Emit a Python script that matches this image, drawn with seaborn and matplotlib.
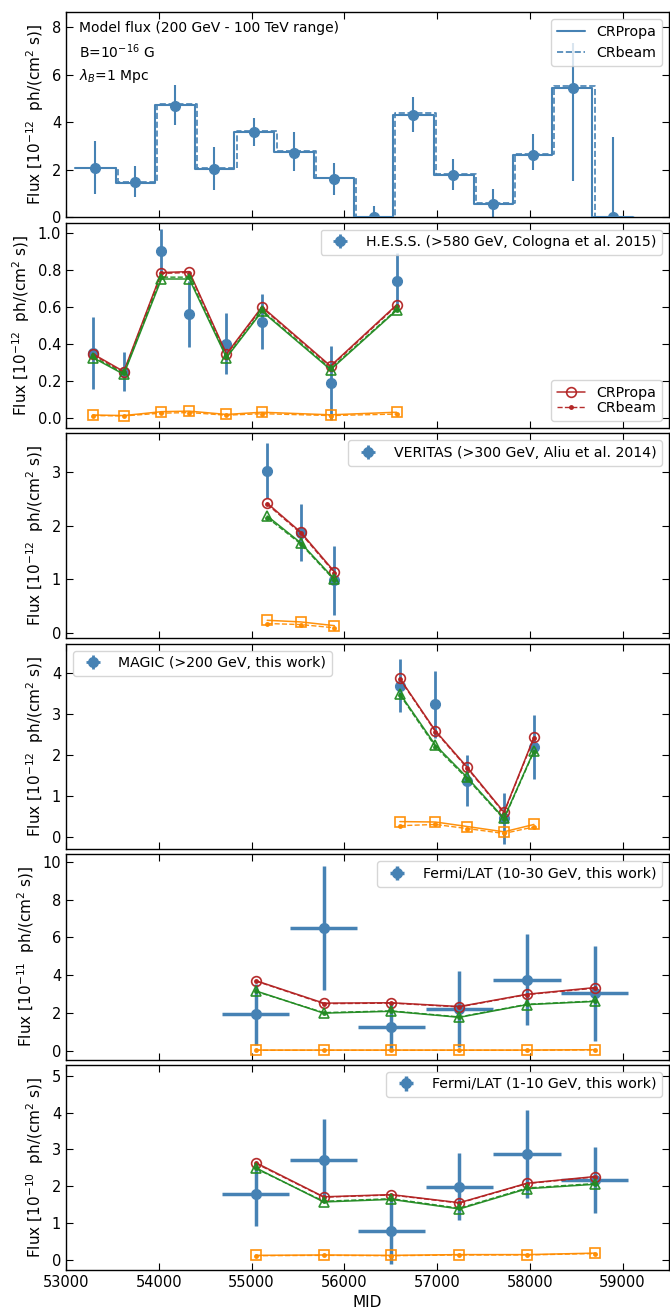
import numpy as np
import matplotlib
matplotlib.use("Agg")
import matplotlib.pyplot as plt
import seaborn as sns
from matplotlib.lines import Line2D

# ---------------- data ----------------
# Panel 1: model flux (200 GeV - 100 TeV), 1e-12 ph/(cm2 s)
p1_x = [53310, 53745, 54170, 54600, 55030, 55455, 55885, 56315, 56740, 57175, 57600, 58030, 58460, 58895]
p1_y = [2.07, 1.48, 4.68, 2.05, 3.58, 2.73, 1.62, 0.02, 4.32, 1.78, 0.57, 2.62, 5.47, 0.03]
p1_ylo = [1.07, 0.60, 0.78, 0.90, 0.58, 0.78, 0.67, 0.50, 0.74, 0.63, 0.62, 0.62, 3.92, 3.35]
p1_yhi = [1.13, 0.67, 0.90, 0.90, 0.60, 0.85, 0.68, 0.48, 0.76, 0.67, 0.61, 0.90, 1.88, 3.35]
p1_edges = [53095, 53535, 53955, 54390, 54815, 55245, 55675, 56105, 56525, 56965, 57395, 57815, 58240, 58672, 59110]
p1_crpropa = [2.08, 1.47, 4.72, 2.05, 3.58, 2.75, 1.65, 0.0, 4.32, 1.78, 0.57, 2.62, 5.47, 0.0]
p1_crbeam = [2.10, 1.50, 4.76, 2.08, 3.62, 2.79, 1.68, 0.0, 4.38, 1.82, 0.60, 2.66, 5.55, 0.0]
p1_crbeam_shift = 25

# Panel 2: H.E.S.S.
hess_x = [53291, 53623, 54029, 54329, 54730, 55113, 55852, 56563]
hess_y = [0.35, 0.25, 0.90, 0.56, 0.40, 0.52, 0.19, 0.74]
hess_err = [0.195, 0.105, 0.12, 0.18, 0.165, 0.15, 0.20, 0.15]
hess_red = [0.345, 0.25, 0.785, 0.79, 0.345, 0.60, 0.28, 0.61]
hess_red_b = [0.34, 0.245, 0.78, 0.785, 0.34, 0.595, 0.275, 0.605]
hess_green = [0.325, 0.235, 0.75, 0.75, 0.325, 0.575, 0.26, 0.58]
hess_green_b = [0.33, 0.24, 0.76, 0.76, 0.33, 0.58, 0.265, 0.585]
hess_orange = [0.015, 0.012, 0.033, 0.036, 0.018, 0.030, 0.016, 0.030]
hess_orange_b = [0.012, 0.010, 0.025, 0.028, 0.014, 0.022, 0.012, 0.020]

# Panel 3: VERITAS
ver_x = [55169, 55529, 55893]
ver_y = [3.03, 1.87, 0.98]
ver_err = [0.51, 0.54, 0.645]
ver_red = [2.42, 1.88, 1.14]
ver_red_b = [2.40, 1.86, 1.12]
ver_green = [2.18, 1.68, 1.00]
ver_green_b = [2.15, 1.66, 0.98]
ver_orange = [0.23, 0.20, 0.13]
ver_orange_b = [0.17, 0.15, 0.09]

# Panel 4: MAGIC
mag_x = [56599, 56982, 57324, 57721, 58044]
mag_y = [3.69, 3.24, 1.37, 0.45, 2.19]
mag_err = [0.65, 0.82, 0.63, 0.62, 0.79]
mag_xerr = [40, 40, 40, 40, 40]
mag_red = [3.87, 2.59, 1.70, 0.60, 2.43]
mag_red_b = [3.85, 2.57, 1.68, 0.58, 2.41]
mag_green = [3.50, 2.24, 1.45, 0.45, 2.10]
mag_green_b = [3.47, 2.20, 1.42, 0.43, 2.08]
mag_orange = [0.37, 0.36, 0.25, 0.12, 0.30]
mag_orange_b = [0.27, 0.30, 0.20, 0.08, 0.24]

# Panels 5/6: Fermi/LAT
lat_x = [55044, 55778, 56507, 57241, 57970, 58699]
lat_xerr = [362, 362, 362, 362, 362, 362]
lat30_y = [1.93, 6.48, 1.27, 2.22, 3.77, 3.05]
lat30_err = [1.60, 3.27, 1.25, 2.00, 2.40, 2.50]
lat30_red = [3.72, 2.53, 2.55, 2.35, 3.00, 3.35]
lat30_red_b = [3.70, 2.50, 2.53, 2.33, 2.98, 3.32]
lat30_green = [3.18, 2.00, 2.10, 1.78, 2.45, 2.62]
lat30_green_b = [3.15, 2.03, 2.12, 1.80, 2.47, 2.64]
lat30_orange = [0.05, 0.05, 0.05, 0.05, 0.05, 0.07]
lat30_orange_b = [0.04, 0.04, 0.04, 0.04, 0.04, 0.06]

lat10_y = [1.78, 2.72, 0.77, 1.99, 2.87, 2.16]
lat10_err = [0.86, 1.11, 0.88, 0.91, 1.19, 0.90]
lat10_red = [2.64, 1.71, 1.77, 1.55, 2.08, 2.26]
lat10_red_b = [2.62, 1.70, 1.76, 1.54, 2.07, 2.25]
lat10_green = [2.50, 1.57, 1.64, 1.38, 1.93, 2.05]
lat10_green_b = [2.48, 1.59, 1.66, 1.40, 1.95, 2.07]
lat10_orange = [0.12, 0.13, 0.12, 0.14, 0.14, 0.18]
lat10_orange_b = [0.11, 0.12, 0.11, 0.13, 0.13, 0.17]

# ---------------- style ----------------
sns.set_style("ticks", {"xtick.direction": "in", "ytick.direction": "in",
                        "axes.edgecolor": "black", "text.color": "black",
                        "axes.labelcolor": "black", "xtick.color": "black",
                        "ytick.color": "black"})
plt.rcParams["font.family"] = ["DejaVu Sans"]
plt.rcParams["font.size"] = 10
plt.rcParams["mathtext.fontset"] = "dejavusans"

BLUE = "steelblue"
RED = "firebrick"
GREEN = "forestgreen"
ORANGE = "darkorange"
LEGFS = 10.2
YLFS = 11

fig, axes = plt.subplots(6, 1, figsize=(6.7, 13.08), dpi=100, sharex=True)
fig.subplots_adjust(left=0.0985, right=0.9985, top=0.9908, bottom=0.029, hspace=0.025)


def ylab(exp):
    return "Flux [10$^{-%d}$  ph/(cm$^2$ s)]" % exp


def data(ax, x, y, yerr, xerr=None, lw=2.0, label=None):
    return ax.errorbar(x, y, yerr=yerr, xerr=xerr, fmt="o", color=BLUE, ms=7,
                       elinewidth=lw, capsize=0, label=label, zorder=2)


def model(ax, x, y, color, marker):
    sns.lineplot(x=x, y=y, ax=ax, color=color, marker=marker, markersize=7,
                 markerfacecolor="none", mec=color, mew=1.2, linewidth=1.1,
                 alpha=0.95, zorder=3)
    return ax.lines[-1]


def model_b(ax, x, y, color):
    sns.lineplot(x=x, y=y, ax=ax, color=color, marker=".", markersize=5,
                 mec=color, mew=1.0, linestyle="--", linewidth=1.0,
                 alpha=0.95, zorder=3)
    return ax.lines[-1]


def three_models(ax, x, r, rb, g, gb, o, ob):
    hr = model(ax, x, r, RED, "o")
    hrb = model_b(ax, x, rb, RED)
    model(ax, x, g, GREEN, "^")
    model_b(ax, x, gb, GREEN)
    model(ax, x, o, ORANGE, "s")
    model_b(ax, x, ob, ORANGE)
    return hr, hrb


def style(ax):
    ax.tick_params(which="both", direction="in", top=True, right=True,
                   length=5, labelsize=10.5, colors="black")
    for s in ax.spines.values():
        s.set_visible(True)
        s.set_linewidth(1.0)
        s.set_color("black")


# ---- Panel 1
ax = axes[0]
data(ax, p1_x, p1_y, [p1_ylo, p1_yhi], lw=1.5)
sns.lineplot(x=p1_edges, y=p1_crpropa + [p1_crpropa[-1]], ax=ax, color=BLUE,
             drawstyle="steps-post", linewidth=1.5, zorder=3)
edges_b = [p1_edges[0]] + [e + p1_crbeam_shift for e in p1_edges[1:]]
sns.lineplot(x=edges_b, y=p1_crbeam + [p1_crbeam[-1]], ax=ax, color=BLUE,
             drawstyle="steps-post", linewidth=1.2, linestyle="--", zorder=3)
ax.set_ylim(0, 8.65)
ax.set_yticks([0, 2, 4, 6, 8])
ax.text(0.021, 0.955, "Model flux (200 GeV - 100 TeV range)\nB=10$^{-16}$ G\n$\\lambda_B$=1 Mpc",
        transform=ax.transAxes, ha="left", va="top", fontsize=10, linespacing=1.45)
h1 = [Line2D([], [], color=BLUE, lw=1.5), Line2D([], [], color=BLUE, lw=1.2, ls="--")]
ax.legend(h1, ["CRPropa", "CRbeam"], loc="upper right", fontsize=LEGFS)
ax.set_ylabel(ylab(12), fontsize=YLFS)

# ---- Panel 2
ax = axes[1]
hd = data(ax, hess_x, hess_y, hess_err, xerr=[0] * len(hess_x), lw=2.0)
hr, hrb = three_models(ax, hess_x, hess_red, hess_red_b, hess_green, hess_green_b,
                       hess_orange, hess_orange_b)
ax.set_ylim(-0.055, 1.055)
ax.set_yticks([0.0, 0.2, 0.4, 0.6, 0.8, 1.0])
leg = ax.legend([hd], ["H.E.S.S. (>580 GeV, Cologna et al. 2015)"], loc="upper right", fontsize=LEGFS)
ax.add_artist(leg)
ax.legend([hr, hrb], ["CRPropa", "CRbeam"], loc="lower right", fontsize=LEGFS,
          handletextpad=0.8, labelspacing=0.1)
ax.set_ylabel(ylab(12), fontsize=YLFS)

# ---- Panel 3
ax = axes[2]
hd = data(ax, ver_x, ver_y, ver_err, xerr=[0] * len(ver_x), lw=2.0)
three_models(ax, ver_x, ver_red, ver_red_b, ver_green, ver_green_b, ver_orange, ver_orange_b)
ax.set_ylim(-0.11, 3.73)
ax.set_yticks([0, 1, 2, 3])
ax.legend([hd], ["VERITAS (>300 GeV, Aliu et al. 2014)"], loc="upper right", fontsize=LEGFS)
ax.set_ylabel(ylab(12), fontsize=YLFS)

# ---- Panel 4
ax = axes[3]
hd = data(ax, mag_x, mag_y, mag_err, xerr=mag_xerr, lw=2.0)
three_models(ax, mag_x, mag_red, mag_red_b, mag_green, mag_green_b, mag_orange, mag_orange_b)
ax.set_ylim(-0.3, 4.72)
ax.set_yticks([0, 1, 2, 3, 4])
ax.legend([hd], ["MAGIC (>200 GeV, this work)"], loc="upper left", fontsize=LEGFS)
ax.set_ylabel(ylab(12), fontsize=YLFS)

# ---- Panel 5
ax = axes[4]
hd = data(ax, lat_x, lat30_y, lat30_err, xerr=lat_xerr, lw=2.5)
three_models(ax, lat_x, lat30_red, lat30_red_b, lat30_green, lat30_green_b, lat30_orange, lat30_orange_b)
ax.set_ylim(-0.45, 10.4)
ax.set_yticks([0, 2, 4, 6, 8, 10])
ax.legend([hd], ["Fermi/LAT (10-30 GeV, this work)"], loc="upper right", fontsize=LEGFS)
ax.set_ylabel(ylab(11), fontsize=YLFS)

# ---- Panel 6
ax = axes[5]
hd = data(ax, lat_x, lat10_y, lat10_err, xerr=lat_xerr, lw=2.5)
three_models(ax, lat_x, lat10_red, lat10_red_b, lat10_green, lat10_green_b, lat10_orange, lat10_orange_b)
ax.set_ylim(-0.28, 5.3)
ax.set_yticks([0, 1, 2, 3, 4, 5])
ax.legend([hd], ["Fermi/LAT (1-10 GeV, this work)"], loc="upper right", fontsize=LEGFS)
ax.set_ylabel(ylab(10), fontsize=YLFS)
ax.set_xlabel("MID", fontsize=YLFS)

for ax in axes:
    style(ax)
    ax.set_xlim(53000, 59500)
axes[-1].set_xticks([53000, 54000, 55000, 56000, 57000, 58000, 59000])

fig.savefig("out.png", dpi=100)
